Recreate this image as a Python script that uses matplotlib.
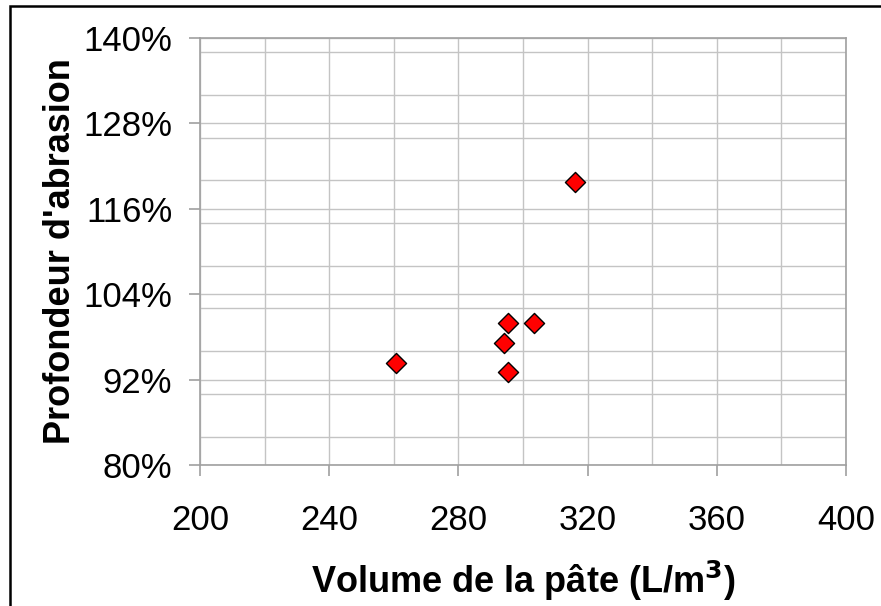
import matplotlib.pyplot as plt
from matplotlib.patches import Rectangle
from matplotlib.ticker import MultipleLocator, FuncFormatter

# Data
volume_pate = [260.6, 316.2, 295.5, 303.4, 294.2, 295.5]
profondeur = [94.4, 119.7, 100.0, 100.0, 97.2, 93.0]

x_ticks = [200, 240, 280, 320, 360, 400]
y_ticks = [80, 92, 104, 116, 128, 140]

plt.rcParams["font.family"] = ["Liberation Sans", "DejaVu Sans"]

fig = plt.figure(figsize=(8.81, 6.06), dpi=100)
ax = fig.add_axes([200 / 881, 1 - 465 / 606, 646 / 881, 427 / 606])

ax.scatter(volume_pate, profondeur, marker="D", s=105, facecolor="#ff0000",
           edgecolor="black", linewidth=1, zorder=3)

ax.set_xlim(200, 400)
ax.set_ylim(80, 140)
ax.set_xticks(x_ticks)
ax.set_yticks(y_ticks)
ax.xaxis.set_minor_locator(MultipleLocator(20))
ax.yaxis.set_minor_locator(MultipleLocator(6))
ax.yaxis.set_major_formatter(FuncFormatter(lambda v, p: f"{v:.0f}%"))

ax.grid(which="both", color="#c4c4c4", linewidth=1)
ax.set_axisbelow(True)
for s in ax.spines.values():
    s.set_color("#a0a0a0")
    s.set_linewidth(1.2)

ax.tick_params(which="major", length=8, width=1.2, color="#a0a0a0",
               labelsize=25, pad=12)
ax.tick_params(axis="x", pad=20)
ax.tick_params(which="minor", length=0)

ax.set_xlabel("Volume de la pâte (L/m$^\\mathbf{3}$)", fontsize=26,
              fontweight="bold", labelpad=16)
ax.set_ylabel("Profondeur d'abrasion", fontsize=26, fontweight="bold",
              labelpad=4)

# Outer chart frame
fig.patches.append(Rectangle((10 / 881, -0.1), 1.2, 1 - 6 / 606 + 0.1,
                             transform=fig.transFigure, fill=False,
                             edgecolor="black", linewidth=1.8))

plt.savefig("out.png", dpi=100)
